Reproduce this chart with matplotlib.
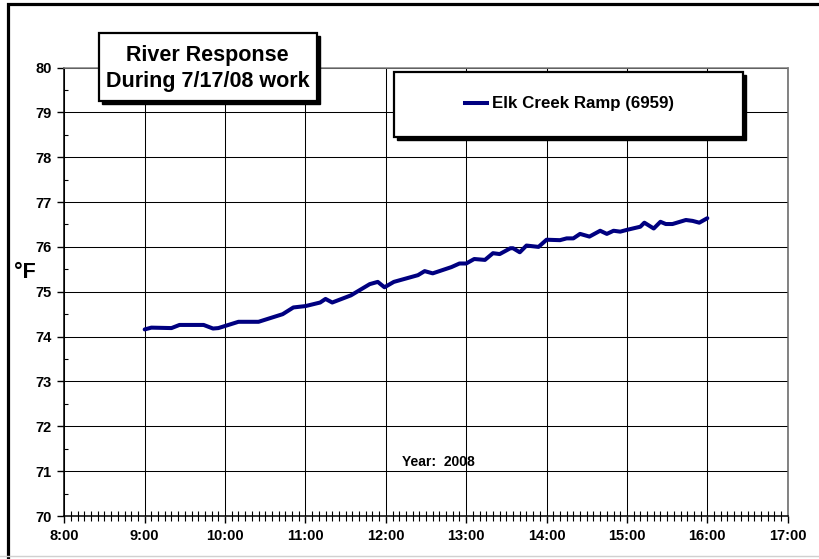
import matplotlib
matplotlib.use("Agg")
import matplotlib.pyplot as plt
from matplotlib.patches import Rectangle
from matplotlib.lines import Line2D
from matplotlib.ticker import MultipleLocator, FuncFormatter

plt.rcParams['font.family'] = ['Liberation Sans', 'DejaVu Sans']
plt.rcParams['font.weight'] = 'bold'

# readings (clock time, deg F)
times = ["9:00", "9:05", "9:20", "9:26", "9:44", "9:51", "9:55", "10:10", "10:25",
         "10:43", "10:51", "11:00", "11:11", "11:15", "11:20", "11:34", "11:48",
         "11:54", "11:59", "12:06", "12:24", "12:29", "12:35", "12:49", "12:55",
         "13:00", "13:06", "13:14", "13:20", "13:25", "13:33", "13:35", "13:40",
         "13:45", "13:54", "14:00", "14:10", "14:15", "14:20", "14:25", "14:32",
         "14:40", "14:45", "14:50", "14:55", "15:00", "15:10", "15:13", "15:20",
         "15:25", "15:29", "15:34", "15:44", "15:49", "15:54", "16:00"]
temps = [74.16, 74.20, 74.19, 74.26, 74.26, 74.18, 74.19, 74.33, 74.33,
         74.50, 74.65, 74.68, 74.76, 74.84, 74.76, 74.92, 75.17,
         75.22, 75.10, 75.22, 75.37, 75.46, 75.41, 75.55, 75.63,
         75.63, 75.73, 75.71, 75.86, 75.84, 75.97, 75.97, 75.88,
         76.03, 76.00, 76.16, 76.15, 76.19, 76.19, 76.29, 76.23,
         76.36, 76.29, 76.36, 76.34, 76.38, 76.45, 76.54, 76.41,
         76.56, 76.51, 76.51, 76.60, 76.58, 76.54, 76.64]
series_name = "Elk Creek Ramp (6959)"
title_lines = ["River Response", "During 7/17/08 work"]
year_note = "Year:  2008"
y_label = "°F"

hours = [int(t.split(":")[0]) + int(t.split(":")[1]) / 60 for t in times]

W, H = 820, 559
fig = plt.figure(figsize=(W / 100, H / 100), dpi=100)
ax = fig.add_axes([64.3 / W, 1 - 516 / H, (787.7 - 64.3) / W, (516 - 67.5) / H])

ax.plot(hours, temps, color='#000080', lw=2.9, solid_capstyle='round', zorder=3)

ax.set_xlim(8, 17)
ax.set_ylim(70, 80)
ax.xaxis.set_major_locator(MultipleLocator(1))
ax.xaxis.set_minor_locator(MultipleLocator(5 / 60))
ax.yaxis.set_major_locator(MultipleLocator(1))
ax.yaxis.set_minor_locator(MultipleLocator(0.5))
ax.xaxis.set_major_formatter(FuncFormatter(lambda v, p: f"{int(round(v))}:00"))
ax.yaxis.set_major_formatter(FuncFormatter(lambda v, p: f"{int(round(v))}"))

ax.grid(which='major', color='black', lw=0.75)
ax.tick_params(axis='x', which='major', direction='out', length=5, width=1, pad=4, labelsize=10.5)
ax.tick_params(axis='x', which='minor', direction='inout', length=7, width=0.8)
ax.tick_params(axis='y', which='major', direction='out', length=5, width=1, pad=4, labelsize=10.5)
ax.tick_params(axis='y', which='minor', direction='in', length=3, width=0.8)
for lab in ax.get_xticklabels() + ax.get_yticklabels():
    lab.set_fontweight('bold')

ax.spines['left'].set_color('black')
ax.spines['bottom'].set_color('black')
ax.spines['top'].set_color('#808080')
ax.spines['right'].set_color('#606060')
for s in ax.spines.values():
    s.set_linewidth(1.1)

def fx(px):
    return px / W

def fy(py):
    return 1 - py / H

# outer chart border (cropped on right and bottom)
fig.add_artist(Rectangle((fx(8), fy(600)), fx(900), fy(4) - fy(600), transform=fig.transFigure,
                         fill=False, edgecolor='black', lw=2.3))
fig.add_artist(Line2D([0, 1], [fy(556), fy(556)], transform=fig.transFigure, color='#d0d0d0', lw=1))

def shadow_box(x0, y0, x1, y1):
    off = 3
    fig.add_artist(Rectangle((fx(x0 + off), fy(y1 + off)), fx(x1 - x0), fy(y0) - fy(y1),
                             transform=fig.transFigure, facecolor='black', edgecolor='black',
                             lw=1, zorder=5))
    fig.add_artist(Rectangle((fx(x0), fy(y1)), fx(x1 - x0), fy(y0) - fy(y1),
                             transform=fig.transFigure, facecolor='white', edgecolor='black',
                             lw=1.6, zorder=6))

# title box
shadow_box(98.7, 33.3, 316.7, 101)
fig.text(fx(207.7), fy(55), title_lines[0], ha='center', va='center', fontsize=15.5,
         fontweight='bold', zorder=7)
fig.text(fx(207.7), fy(82), title_lines[1], ha='center', va='center', fontsize=15.5,
         fontweight='bold', zorder=7)

# legend box
shadow_box(394, 72.3, 742.7, 137.3)
fig.add_artist(Line2D([fx(465), fx(486.7)], [fy(103.3), fy(103.3)], transform=fig.transFigure,
                      color='#000080', lw=2.9, zorder=7))
fig.text(fx(491.7), fy(103.3), series_name, ha='left', va='center', fontsize=12.2,
         fontweight='bold', zorder=7)

fig.text(fx(25), fy(272), y_label, ha='center', va='center', fontsize=15.5, fontweight='bold')
fig.text(fx(401.7), fy(462), year_note, ha='left', va='center', fontsize=10, fontweight='bold')

fig.savefig("out.png", dpi=100)
